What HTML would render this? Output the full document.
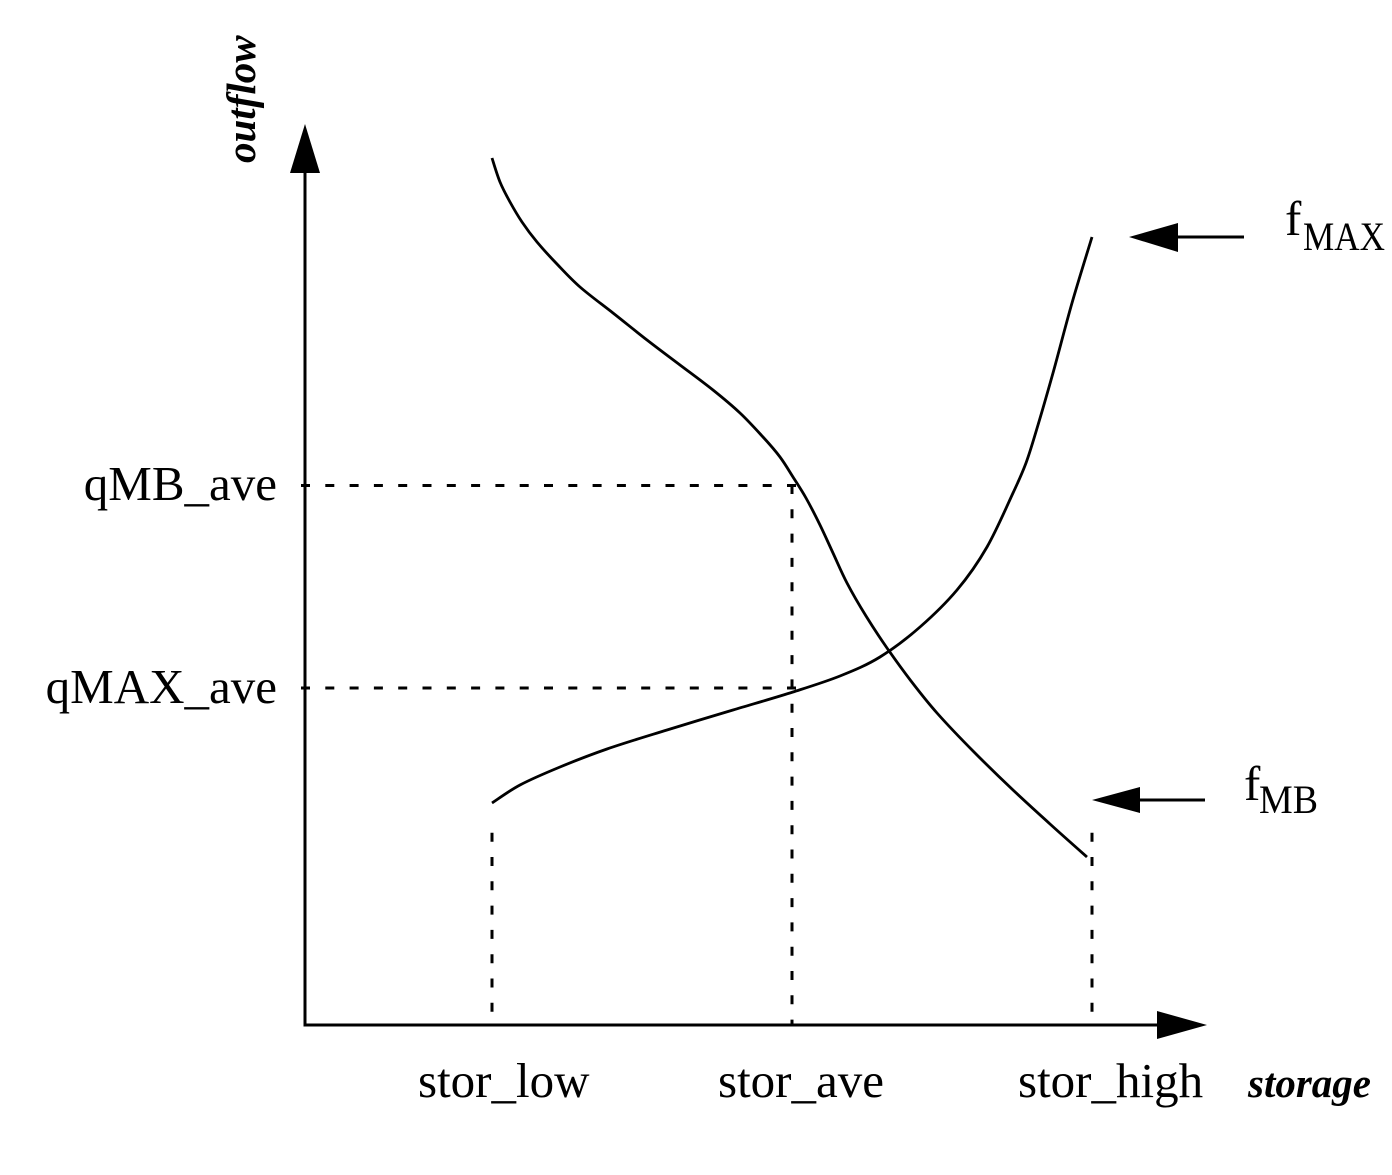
<!DOCTYPE html>
<html>
<head>
<meta charset="utf-8">
<style>
  html,body{margin:0;padding:0;background:#fff;}
  svg{display:block;}
  text{font-family:"Liberation Serif","Times New Roman",serif;fill:#000;}
</style>
</head>
<body>
<svg width="1392" height="1175" viewBox="0 0 1392 1175" xmlns="http://www.w3.org/2000/svg">
  <rect x="0" y="0" width="1392" height="1175" fill="#fff"/>

  <!-- axes -->
  <line x1="305" y1="1026.5" x2="305" y2="170" stroke="#000" stroke-width="3"/>
  <polygon points="305,124 290,173 320,173" fill="#000"/>
  <line x1="303.5" y1="1025" x2="1160" y2="1025" stroke="#000" stroke-width="3"/>
  <polygon points="1207,1025 1157,1011 1157,1039" fill="#000"/>

  <!-- dashed guides -->
  <g stroke="#000" stroke-width="3" fill="none">
    <line x1="301" y1="485.5" x2="796" y2="485.5" stroke-dasharray="9 15.3"/>
    <line x1="301" y1="688" x2="796" y2="688" stroke-dasharray="9 15.3"/>
    <line x1="792" y1="485" x2="792" y2="1025" stroke-dasharray="9 15.3"/>
    <line x1="492" y1="832.7" x2="492" y2="1025" stroke-dasharray="9 15.3"/>
    <line x1="1092" y1="832.7" x2="1092" y2="1025" stroke-dasharray="9 15.3"/>
  </g>

  <!-- f_MB curve (decreasing) -->
  <path fill="none" stroke="#000" stroke-width="2.8" stroke-linejoin="round" d="M492,158
    C493.3,162 497,174.7 500,182
    C503,189.3 506.3,195.3 510,202
    C513.7,208.7 517.5,215.3 522,222
    C526.5,228.7 531.3,235.2 537,242
    C542.7,248.8 548.8,255.5 556,263
    C563.2,270.5 570.5,278.7 580,287
    C589.5,295.3 601.8,304.2 613,313
    C624.2,321.8 635.8,331.3 647,340
    C658.2,348.7 669,356.7 680,365
    C691,373.3 703,382 713,390
    C723,398 731.7,405.2 740,413
    C748.3,420.8 756.3,429.7 763,437
    C769.7,444.3 775,450.3 780,457
    C785,463.7 788.7,470.2 793,477
    C797.3,483.8 801.5,490 806,498
    C810.5,506 815.5,515.8 820,525
    C824.5,534.2 828.5,543.3 833,553
    C837.5,562.7 841.5,572.5 847,583
    C852.5,593.5 859.3,605.2 866,616
    C872.7,626.8 879.5,637.2 887,648
    C894.5,658.8 902.7,670.2 911,681
    C919.3,691.8 926.5,701.2 937,713
    C947.5,724.8 961.3,739.2 974,752
    C986.7,764.8 1000.3,778 1013,790
    C1025.7,802 1037.7,812.8 1050,824
    C1062.3,835.2 1080.8,851.5 1087,857"/>

  <!-- f_MAX curve (increasing) -->
  <path fill="none" stroke="#000" stroke-width="2.8" stroke-linejoin="round" d="M492,803
    C496.7,800 508.7,791 520,785
    C531.3,779 545.5,773 560,767
    C574.5,761 589.2,755.2 607,749
    C624.8,742.8 646,736.5 667,730
    C688,723.5 712,716.3 733,710
    C754,703.7 775.2,697.7 793,692
    C810.8,686.3 825.5,681.8 840,676
    C854.5,670.2 866.7,665.2 880,657
    C893.3,648.8 907.2,638.2 920,627
    C932.8,615.8 945.8,603.3 957,590
    C968.2,576.7 977.7,563.2 987,547
    C996.3,530.8 1006.5,507 1013,493
    C1019.5,479 1021.8,474.3 1026,463
    C1030.2,451.7 1033.5,440 1038,425
    C1042.5,410 1047.3,393.3 1053,373
    C1058.7,352.7 1065.5,325.7 1072,303
    C1078.5,280.3 1088.7,248 1092,237"/>

  <!-- label arrows -->
  <line x1="1176" y1="237" x2="1244" y2="237" stroke="#000" stroke-width="3"/>
  <polygon points="1129,237 1178,223 1178,252" fill="#000"/>
  <line x1="1138" y1="800" x2="1205" y2="800" stroke="#000" stroke-width="3"/>
  <polygon points="1092,800 1140,787 1140,813" fill="#000"/>

  <!-- y labels -->
  <text x="277" y="500" font-size="49" text-anchor="end">qMB_ave</text>
  <text x="277" y="703" font-size="49" text-anchor="end">qMAX_ave</text>

  <!-- x labels -->
  <text x="418" y="1097" font-size="49">stor_low</text>
  <text x="718" y="1097" font-size="49">stor_ave</text>
  <text x="1018" y="1097" font-size="49">stor_high</text>
  <text x="1248" y="1097" font-size="41" font-weight="bold" font-style="italic">storage</text>

  <!-- y axis title -->
  <text transform="translate(255,163) rotate(-90)" font-size="41" font-weight="bold" font-style="italic">outflow</text>

  <!-- curve labels -->
  <text x="1285" y="235" font-size="49">f</text>
  <text x="1303" y="250" font-size="40" textLength="82" lengthAdjust="spacingAndGlyphs">MAX</text>
  <text x="1244" y="800" font-size="49">f</text>
  <text x="1259" y="813" font-size="40" textLength="59" lengthAdjust="spacingAndGlyphs">MB</text>
</svg>
</body>
</html>
